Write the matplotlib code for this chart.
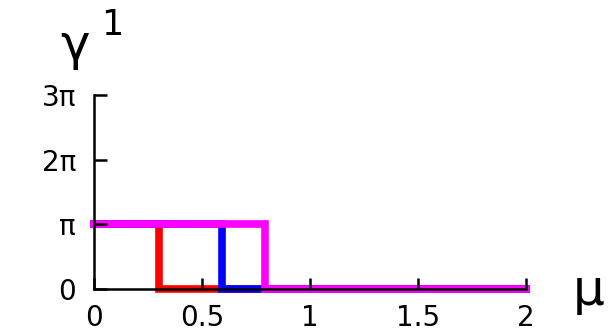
import numpy as np
import matplotlib
matplotlib.use("Agg")
import matplotlib.pyplot as plt

PI = np.pi
# step curves (x breakpoints and y values)
red_x = [0.0, 0.30, 0.30, 2.0]
red_y = [PI, PI, 0.0, 0.0]
blue_x = [0.0, 0.594, 0.594, 2.0]
blue_y = [PI, PI, 0.0, 0.0]
magenta_x = [0.0, 0.792, 0.792, 2.0]
magenta_y = [PI, PI, 0.0, 0.0]

xticks = [0, 0.5, 1, 1.5, 2]
xticklabels = ["0", "0.5", "1", "1.5", "2"]
yticks = [0, PI, 2 * PI, 3 * PI]
yticklabels = ["0", "π", "2π", "3π"]

W, H = 613, 334
fig = plt.figure(figsize=(W / 100, H / 100), dpi=100)
left, right, top, bottom = 94, 526, 95, 289
ax = fig.add_axes([left / W, 1 - bottom / H, (right - left) / W, (bottom - top) / H])

lw = 5.5
for xs, ys, c in [(red_x, red_y, "#ff0000"), (blue_x, blue_y, "#0000ff"),
                  (magenta_x, magenta_y, "#ff00ff")]:
    ax.plot(xs, ys, color=c, lw=lw, clip_on=False, solid_capstyle="projecting",
            solid_joinstyle="miter")

ax.set_xlim(0, 2)
ax.set_ylim(0, 3 * PI)
ax.set_axisbelow(False)
for s in ["top", "right"]:
    ax.spines[s].set_visible(False)
for s in ["left", "bottom"]:
    ax.spines[s].set_linewidth(1.8)
    ax.spines[s].set_zorder(5)

ax.set_xticks(xticks)
ax.set_xticklabels(xticklabels)
ax.set_yticks(yticks)
ax.set_yticklabels(yticklabels)
ax.tick_params(direction="in", length=8, width=1.8, labelsize=20,
               colors="black", zorder=5)
ax.tick_params(axis="x", pad=11)
ax.tick_params(axis="y", length=9, pad=13)

fig.text(75 / W, 1 - 60 / H, "γ", fontsize=36, ha="center", va="baseline")
fig.text(112 / W, 1 - 35 / H, "1", fontsize=25, ha="center", va="baseline")
fig.text(589 / W, 1 - 305 / H, "μ", fontsize=36, ha="center", va="baseline")

fig.savefig("out.png", dpi=100)
